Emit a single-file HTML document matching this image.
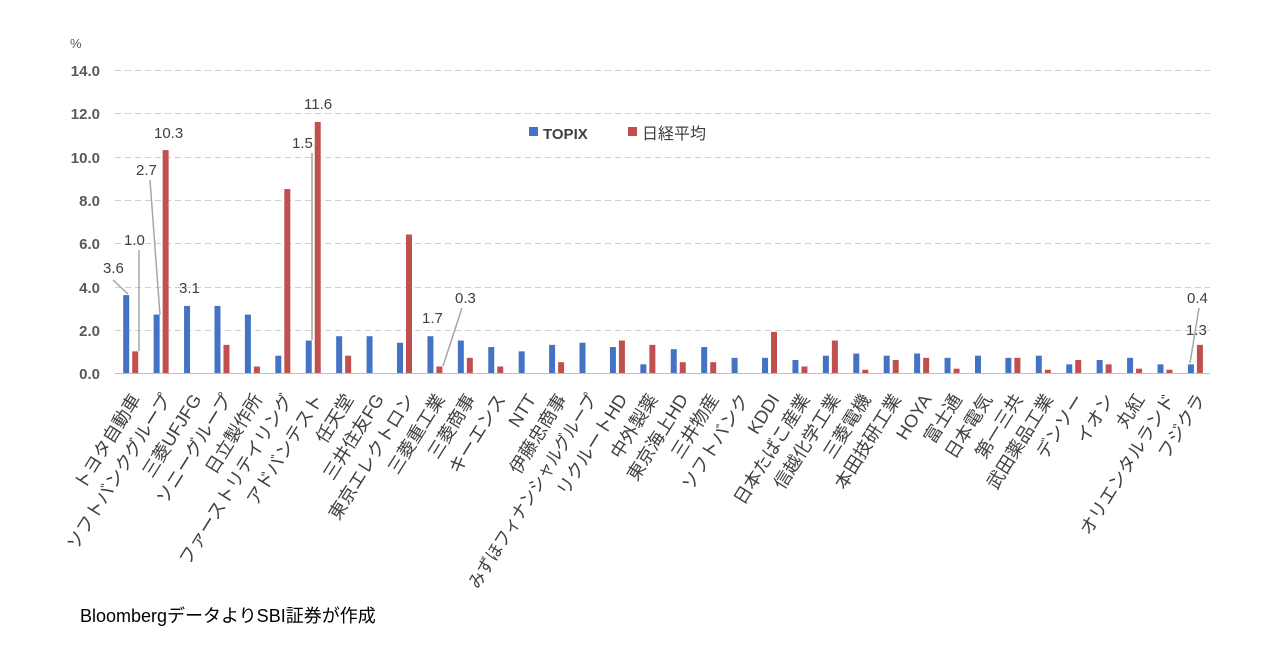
<!DOCTYPE html>
<html><head><meta charset="utf-8"><style>
body{margin:0;background:#fff;}
svg{display:block;font-family:"Liberation Sans","Noto Sans CJK JP",sans-serif;}
</style></head><body>
<svg width="1277" height="655" viewBox="0 0 1277 655">
<g id="grid" stroke="#d0d0d0" stroke-dasharray="6,4" stroke-width="1">
<line x1="115" x2="1210" y1="70.5" y2="70.5"/><line x1="115" x2="1210" y1="113.5" y2="113.5"/>
<line x1="115" x2="1210" y1="157.5" y2="157.5"/><line x1="115" x2="1210" y1="200.5" y2="200.5"/>
<line x1="115" x2="1210" y1="243.5" y2="243.5"/><line x1="115" x2="1210" y1="287.5" y2="287.5"/>
<line x1="115" x2="1210" y1="330.5" y2="330.5"/>
</g>
<line x1="115" x2="1210" y1="373.5" y2="373.5" stroke="#bfbfbf"/>
<g font-size="15" fill="#595959" text-anchor="end" font-weight="bold">
<text x="100" y="76">14.0</text><text x="100" y="119">12.0</text><text x="100" y="163">10.0</text>
<text x="100" y="206">8.0</text><text x="100" y="249">6.0</text><text x="100" y="293">4.0</text>
<text x="100" y="336">2.0</text><text x="100" y="379">0.0</text>
</g>
<text x="70" y="48" font-size="13" fill="#595959">%</text>
<g id="bars"></g>
<g id="labels" font-size="18" fill="#404040"></g>
<g stroke="#a6a6a6" stroke-width="1.5" fill="none">
<line x1="113" y1="280" x2="128" y2="294"/>
<line x1="139" y1="250" x2="139" y2="351"/>
<line x1="150" y1="180" x2="160" y2="315"/>
<line x1="312" y1="153" x2="312" y2="340"/>
<line x1="462" y1="308" x2="443" y2="366"/>
<line x1="1199" y1="308" x2="1190" y2="363"/>
</g>
<g font-size="15" fill="#404040">
<text x="103" y="273">3.6</text><text x="124" y="245">1.0</text><text x="136" y="175">2.7</text>
<text x="154" y="138">10.3</text><text x="179" y="293">3.1</text><text x="292" y="148">1.5</text>
<text x="304" y="109">11.6</text><text x="422" y="323">1.7</text><text x="455" y="303">0.3</text>
<text x="1187" y="303">0.4</text><text x="1186" y="335">1.3</text>
</g>
<rect x="529" y="127" width="9" height="9" fill="#4472C4"/>
<text x="543" y="139" font-size="15" font-weight="bold" fill="#404040">TOPIX</text>
<rect x="628" y="127" width="9" height="9" fill="#C0504D"/>
<text x="642" y="139" font-size="16" fill="#404040">日経平均</text>
<text x="80" y="622" font-size="18" fill="#000">BloombergデータよりSBI証券が作成</text>
</svg>
<script>
var d=[["トヨタ自動車",3.6,1.0],["ソフトバンクグループ",2.7,10.3],["三菱UFJFG",3.1,0],["ソニーグループ",3.1,1.3],["日立製作所",2.7,0.3],["ファーストリテイリング",0.8,8.5],["アドバンテスト",1.5,11.6],["任天堂",1.7,0.8],["三井住友FG",1.7,0],["東京エレクトロン",1.4,6.4],["三菱重工業",1.7,0.3],["三菱商事",1.5,0.7],["キーエンス",1.2,0.3],["NTT",1.0,0],["伊藤忠商事",1.3,0.5],["みずほフィナンシャルグループ",1.4,0],["リクルートHD",1.2,1.5],["中外製薬",0.4,1.3],["東京海上HD",1.1,0.5],["三井物産",1.2,0.5],["ソフトバンク",0.7,0],["KDDI",0.7,1.9],["日本たばこ産業",0.6,0.3],["信越化学工業",0.8,1.5],["三菱電機",0.9,0.15],["本田技研工業",0.8,0.6],["HOYA",0.9,0.7],["富士通",0.7,0.2],["日本電気",0.8,0],["第一三共",0.7,0.7],["武田薬品工業",0.8,0.15],["デンソー",0.4,0.6],["イオン",0.6,0.4],["丸紅",0.7,0.2],["オリエンタルランド",0.4,0.15],["フジクラ",0.4,1.3]];
var ns="http://www.w3.org/2000/svg",b=document.getElementById("bars"),l=document.getElementById("labels");
var y0=373,k=21.64,w=30.42;
d.forEach(function(r,i){var c=115+w*(i+0.5);
[[r[1],c-7,"#4472C4"],[r[2],c+2,"#C0504D"]].forEach(function(s){if(s[0]<=0)return;var h=s[0]*k;var e=document.createElementNS(ns,"rect");e.setAttribute("x",s[1]);e.setAttribute("y",y0-h);e.setAttribute("width",6);e.setAttribute("height",h);e.setAttribute("fill",s[2]);b.appendChild(e);});
var t=document.createElementNS(ns,"text");t.setAttribute("text-anchor","end");t.setAttribute("transform","translate("+(c+11)+",399) rotate(-58)");t.textContent=r[0];
if(i==15){t.setAttribute("textLength","225");t.setAttribute("lengthAdjust","spacingAndGlyphs");}
l.appendChild(t);});
</script>
</body></html>
